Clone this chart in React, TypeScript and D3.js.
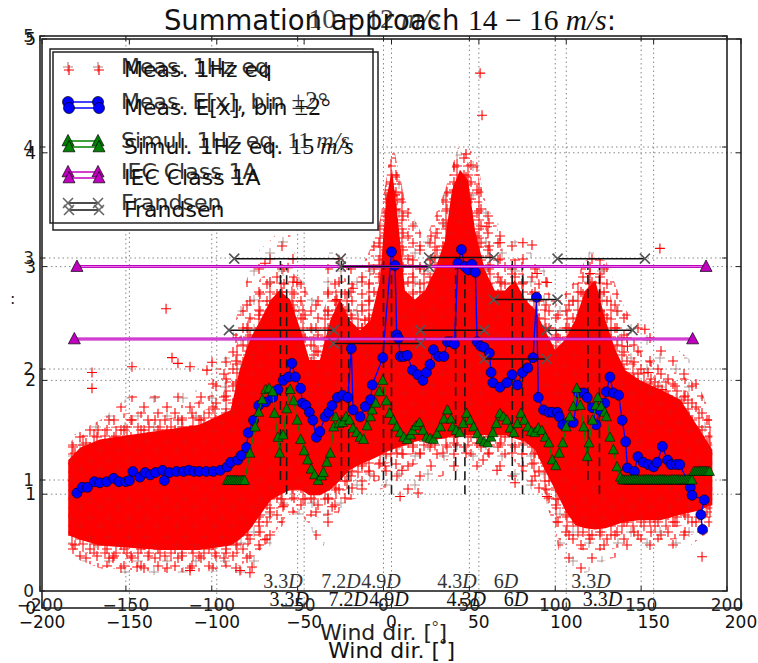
import React from "react";
import * as d3 from "d3";

// ---------------- data ----------------
const xTicks = [-200, -150, -100, -50, 0, 50, 100, 150, 200];
const yTicks = [0, 1, 2, 3, 4, 5];

const coreDirs = [-185, -178, -167, -150, -132, -110, -92, -87, -81, -75, -69, -64, -58, -52, -47, -41, -35, -29.5, -24, -18, -12, -6.6, -3.1, 0.3, 3.7, 7.7, 13.4, 19.2, 24.9, 30.6, 34.6, 39.2, 43.8, 47.8, 53.4, 59.1, 64.9, 70.6, 76.4, 82.1, 87.8, 93.6, 99.4, 105.1, 110.9, 116.6, 122.4, 128.1, 133.8, 142.4, 153.8, 165.3, 176.7, 183.6];
const coreHi = [1.3, 1.41, 1.48, 1.52, 1.56, 1.61, 1.74, 2.09, 2.36, 2.53, 2.71, 2.79, 2.71, 2.44, 2.18, 2.18, 2.53, 2.71, 2.53, 2.44, 2.53, 2.88, 3.59, 3.85, 3.41, 2.79, 2.71, 2.79, 2.97, 3.23, 3.67, 3.85, 3.76, 3.32, 2.97, 2.79, 2.79, 2.88, 2.71, 2.62, 2.44, 2.27, 2.36, 2.53, 2.79, 2.88, 2.53, 2.27, 2.09, 2.0, 1.92, 1.83, 1.56, 1.39];
const coreLo = [0.64, 0.6, 0.55, 0.53, 0.51, 0.51, 0.55, 0.6, 0.69, 0.82, 0.95, 0.99, 1.04, 1.04, 0.99, 0.99, 1.04, 1.12, 1.21, 1.26, 1.3, 1.34, 1.37, 1.39, 1.41, 1.43, 1.46, 1.48, 1.48, 1.49, 1.51, 1.52, 1.52, 1.52, 1.52, 1.52, 1.52, 1.49, 1.46, 1.39, 1.21, 1.04, 0.86, 0.73, 0.7, 0.69, 0.7, 0.73, 0.76, 0.77, 0.77, 0.82, 0.86, 0.91];
// sparse outer envelope of the cloud
const outerDirs = [-185.1, -178.3, -166.9, -149.6, -132.5, -109.6, -92.4, -86.7, -81, -75.3, -69.4, -63.8, -58.1, -52.4, -46.6, -40.9, -35.2, -29.5, -23.7, -18, -12.3, -6.6, 0.3, 7.7, 19.2, 30.6, 39.2, 47.8, 53.4, 64.9, 76.4, 87.8, 93.6, 96.4, 105.1, 113.7, 122.4, 133.8, 145.3, 156.7, 171, 183.6];
const outerHi = [1.48, 1.56, 1.65, 1.87, 1.87, 1.92, 2.27, 2.71, 2.97, 3.15, 3.23, 3.32, 3.28, 2.97, 2.71, 2.79, 3.15, 3.1, 3.01, 2.97, 3.15, 3.41, 4.11, 3.59, 3.23, 3.67, 4.11, 4.02, 3.59, 3.28, 3.19, 2.97, 2.71, 2.71, 2.88, 3.15, 3.06, 2.62, 2.44, 2.36, 2.18, 1.65];
const outerLo = [0.51, 0.42, 0.35, 0.29, 0.29, 0.32, 0.32, 0.29, 0.29, 0.42, 0.55, 0.69, 0.82, 0.82, 0.73, 0.47, 0.69, 0.86, 0.95, 0.97, 0.99, 1.04, 1.08, 0.95, 1.08, 1.17, 1.21, 1.21, 1.21, 1.17, 1.08, 0.95, 0.69, 0.42, 0.25, 0.33, 0.42, 0.47, 0.51, 0.51, 0.55, 0.69];

const outliers: [number, number][] = [
  [50.7, 4.7], [51.8, 4.33], [-129, 2.63], [-125.6, 2.2], [-122.2, 2.15], [-148.5, 2.12], [-171.4, 2.07],
  [-171.4, 1.93], [-115.3, 2.12], [-105.6, 2.09], [-102.7, 2.16], [-72.4, 3.03], [-59.2, 2.99], [-54.1, 2.86],
  [-22, 2.81], [-31.2, 2.71], [-15.2, 2.53], [0.3, 3.38], [2, 3.63], [2, 3.5], [54.6, 3.35], [62.1, 3.21],
  [75.2, 3.21], [80.4, 3.19], [113.6, 2.94], [89, 2.86], [83.3, 2.94], [153.6, 3.16], [146.8, 2.07],
  [154.8, 1.92], [166.2, 1.8], [177.7, 0.45], [-81, 0.31], [-72.4, 0.6], [-62.1, 0.89], [-34, 0.89],
  [6, 1.21], [4.9, 0.98], [15.2, 1.01], [52.4, 1.3], [60.4, 1.21], [70.7, 1.1], [89, 0.98], [-115.3, 0.33],
  [-86.7, 0.33], [-79.8, 0.36], [-145.6, 0.36], [-159.4, 0.44], [27.8, 2.53], [145, 2.45], [135, 2.3],
];

// Meas. E[x], bin ±2°
const bluePoints: [number, number][] = [
  [-180, 1.01], [-177, 1.06], [-174, 1.06], [-170, 1.11], [-167, 1.1], [-163, 1.11], [-159, 1.14], [-156, 1.11],
  [-152, 1.11], [-150, 1.12], [-148, 1.2], [-144, 1.15], [-141, 1.19], [-138, 1.17], [-135, 1.19], [-131, 1.21],
  [-130, 1.12], [-127, 1.19], [-123, 1.2], [-119, 1.2], [-116, 1.21], [-113, 1.2], [-110, 1.2], [-106, 1.2],
  [-102, 1.2], [-98, 1.21], [-94, 1.24], [-92, 1.28], [-88, 1.3], [-86, 1.34], [-83, 1.41], [-82, 1.54],
  [-79, 1.65], [-76, 1.78], [-72, 1.81], [-68, 1.85], [-65, 1.92], [-62, 2.0], [-59, 2.03], [-57, 2.15],
  [-55, 2.03], [-52, 1.93], [-51, 1.8], [-49, 1.78], [-47, 1.72], [-45, 1.65], [-43, 1.5], [-41, 1.55],
  [-38, 1.68], [-36, 1.72], [-34, 1.78], [-31, 1.85], [-28, 1.87], [-25, 1.85], [-23, 2.28], [-22, 1.74],
  [-18, 1.68], [-15, 1.77], [-12, 1.83], [-11, 1.96], [-5, 2.2], [0, 3.13], [2, 3.01], [3, 2.4], [4, 2.37],
  [5, 2.21], [7, 2.21], [9, 2.22], [12, 2.09], [15, 2.05], [18, 2.0], [20, 2.07], [22, 2.14], [24, 2.27],
  [27, 2.21], [30, 2.21], [32, 2.34], [34, 2.34], [36, 2.32], [38, 3.03], [40, 3.15], [42, 3.0], [44, 2.97],
  [46, 3.02], [48, 2.95], [49, 2.34], [51, 2.3], [53, 2.29], [56, 2.24], [57, 2.07], [58, 1.98], [62, 1.94],
  [66, 1.98], [69, 2.05], [72, 1.96], [75, 2.07], [78, 2.11], [81, 2.2], [83, 2.73], [84, 1.85], [87, 1.74],
  [90, 1.72], [92, 1.72], [95, 1.72], [96, 1.68], [98, 1.61], [101, 1.63], [104, 1.63], [107, 1.89],
  [110, 1.89], [112, 1.85], [115, 1.76], [117, 1.61], [119, 1.74], [122, 1.8], [123, 1.9], [125, 2.03],
  [127, 1.89], [130, 1.87], [132, 1.65], [134, 1.46], [135, 1.23], [139, 1.2], [141, 1.33], [144, 1.28],
  [147, 1.26], [150, 1.24], [152, 1.28], [155, 1.42], [158, 1.3], [160, 1.26], [163, 1.26], [165, 1.26],
  [171, 1.06], [172, 0.99], [179, 0.95], [177, 0.82], [178, 0.69],
];

// Simul. 1Hz eq.
const greenPoints: [number, number][] = [
  [-94, 1.12], [-93, 1.12], [-92, 1.12], [-91, 1.12], [-90, 1.12], [-89, 1.12], [-88, 1.12], [-87, 1.12],
  [-86, 1.12], [-85, 1.12], [-84, 1.12], [-81, 1.36], [-78, 1.59], [-76, 1.72], [-74, 1.83], [-72, 1.92],
  [-70, 1.93], [-68, 1.9], [-67, 1.71], [-65, 1.5], [-64, 1.36], [-62, 1.52], [-60, 1.75], [-58, 1.92],
  [-56, 1.82], [-54, 1.65], [-52, 1.48], [-50, 1.38], [-48, 1.3], [-46, 1.22], [-44, 1.17], [-42, 1.12],
  [-40, 1.16], [-39, 1.19], [-37, 1.28], [-35, 1.36], [-33, 1.59], [-32, 1.68], [-30, 1.62], [-28, 1.63],
  [-26, 1.68], [-24, 1.65], [-22, 1.58], [-20, 1.54], [-18, 1.5], [-16, 1.48], [-14, 1.6], [-12, 1.68],
  [-11, 1.74], [-9, 1.8], [-7, 1.9], [-5, 2.0], [-3, 1.82], [-1, 1.71], [1, 1.65], [3, 1.59], [5, 1.54],
  [7, 1.5], [9, 1.48], [11, 1.52], [12, 1.56], [14, 1.6], [16, 1.63], [18, 1.56], [20, 1.5], [22, 1.49],
  [24, 1.48], [26, 1.53], [28, 1.59], [30, 1.66], [32, 1.74], [34, 1.66], [35, 1.59], [37, 1.56], [39, 1.54],
  [41, 1.62], [43, 1.71], [45, 1.65], [47, 1.59], [49, 1.53], [51, 1.48], [53, 1.46], [55, 1.45], [57, 1.5],
  [58, 1.54], [60, 1.62], [62, 1.71], [64, 1.68], [66, 1.65], [68, 1.58], [70, 1.54], [72, 1.62], [74, 1.71],
  [76, 1.65], [78, 1.59], [80, 1.55], [82, 1.54], [84, 1.58], [86, 1.56], [88, 1.5], [90, 1.45], [92, 1.3],
  [94, 1.25], [96, 1.36], [98, 1.45], [100, 1.59], [102, 1.68], [104, 1.77], [106, 1.93], [108, 1.78],
  [110, 1.59], [112, 1.33], [113, 1.45], [115, 1.65], [117, 1.78], [118, 1.85], [120, 1.77], [122, 1.72],
  [123, 1.68], [125, 1.5], [127, 1.39], [129, 1.24], [131, 1.15], [132, 1.125], [133, 1.125], [134, 1.125],
  [135, 1.125], [136, 1.125], [137, 1.125], [138, 1.125], [139, 1.125], [140, 1.125], [141, 1.125], [142, 1.125],
  [143, 1.125], [144, 1.125], [145, 1.125], [146, 1.125], [147, 1.125], [148, 1.125], [149, 1.125], [150, 1.125],
  [151, 1.125], [152, 1.125], [153, 1.125], [154, 1.125], [155, 1.125], [156, 1.125], [157, 1.125], [158, 1.125],
  [159, 1.125], [160, 1.125], [161, 1.125], [162, 1.125], [163, 1.125], [164, 1.125], [165, 1.125], [166, 1.125],
  [167, 1.125], [168, 1.125], [169, 1.125], [170, 1.125], [171, 1.125], [172, 1.125], [173, 1.2], [174, 1.2],
  [175, 1.2], [176, 1.2], [177, 1.2], [178, 1.2], [179, 1.2], [180, 1.2], [181, 1.2], [182, 1.2],
];

// IEC Class 1A level (two overlaid figures: A = 10–12 m/s, B = 14–16 m/s)
const iecDirs = [-180, 180];
const iecLevelA = 2.27;
const iecLevelB = 3.0;

// Frandsen sectors and levels
const frandsenSectors: [number, number][] = [[-90, -29], [-29, 21.5], [21.5, 58.5], [58.5, 95], [95, 145]];
const frandsenLevelsA = [2.35, 2.23, 2.35, 2.09, 2.35];
const frandsenLevelsB = [3.07, 3.0, 3.08, 2.71, 3.07];

// wake directions of neighbouring turbines
const wakeDirs = [-60, -24.5, 0, 42, 75, 119];
const wakeRange = [1, 3];
const wakeLabelDirs = [-58.5, -24.7, -1.5, 42.8, 71.3, 120.8];
const wakeLabels = ["3.3", "7.2", "4.9", "4.3", "6", "3.3"];

const legendTexts = ["Meas. 1Hz eq", "Meas. E[x], bin ", "Simul. 1Hz eq. ", "IEC Class 1A", "Frandsen"];
const legendMathA = ["", "±2°", "11", "", ""];
const legendMathB = ["", "±2°", "15", "", ""];

// ---------------- layout ----------------
const FA = { l: 40, r: 727, t: 36, b: 591 };
const FB = { l: 42, r: 741, t: 39, b: 608 };
const xA = d3.scaleLinear().domain([-200, 200]).range([FA.l, FA.r]);
const yA = d3.scaleLinear().domain([0, 5]).range([FA.b, FA.t]);
const xB = d3.scaleLinear().domain([-200, 200]).range([FB.l, FB.r]);
const yB = d3.scaleLinear().domain([0, 5]).range([FB.b, FB.t]);

const SANS = "DejaVu Sans";
const SERIF = "Liberation Serif";

const crossPath = (x: number, y: number, s: number) => `M${x - s},${y}H${x + s}M${x},${y - s}V${y + s}`;
const xPath = (x: number, y: number, s: number) => `M${x - s},${y - s}L${x + s},${y + s}M${x - s},${y + s}L${x + s},${y - s}`;
const triPath = (x: number, y: number, s: number) => `M${x},${y - s * 1.1}L${x + s},${y + s * 0.8}L${x - s},${y + s * 0.8}Z`;
const fmt = (v: number) => (v < 0 ? "\u2212" + Math.abs(v) : String(v));

type Sc = d3.ScaleLinear<number, number>;

function Grid({ F, x, y }: { F: any; x: Sc; y: Sc }) {
  return (
    <g stroke="#7a7a7a" strokeWidth={0.9} strokeDasharray="1.5,3">
      {xTicks.slice(1, -1).map((t) => (
        <line key={"gx" + t} x1={x(t)} x2={x(t)} y1={F.t} y2={F.b} />
      ))}
      {yTicks.slice(1, -1).map((t) => (
        <line key={"gy" + t} x1={F.l} x2={F.r} y1={y(t)} y2={y(t)} />
      ))}
    </g>
  );
}

function Frame({ F, x, y, color }: { F: any; x: Sc; y: Sc; color: string }) {
  return (
    <g>
      <rect x={F.l} y={F.t} width={F.r - F.l} height={F.b - F.t} fill="none" stroke="#222" strokeWidth={1.6} />
      <g stroke="#222" strokeWidth={1}>
        {xTicks.map((t) => (
          <g key={"tx" + t}>
            <line x1={x(t)} x2={x(t)} y1={F.b} y2={F.b - 5} />
            <line x1={x(t)} x2={x(t)} y1={F.t} y2={F.t + 5} />
          </g>
        ))}
        {yTicks.map((t) => (
          <g key={"ty" + t}>
            <line x1={F.l} x2={F.l + 5} y1={y(t)} y2={y(t)} />
            <line x1={F.r} x2={F.r - 5} y1={y(t)} y2={y(t)} />
          </g>
        ))}
      </g>
      <g fontFamily={SANS} fontSize={17} fill={color}>
        {xTicks.map((t) => (
          <text key={"lx" + t} x={x(t)} y={F.b + 20} textAnchor="middle">
            {fmt(t)}
          </text>
        ))}
        {yTicks.map((t) => (
          <text key={"ly" + t} x={F.l - 6} y={y(t) + 6} textAnchor="end">
            {fmt(t)}
          </text>
        ))}
      </g>
    </g>
  );
}

function Wakes({ x, y, labelY, color }: { x: Sc; y: Sc; labelY: number; color: string }) {
  return (
    <g>
      {wakeDirs.map((d, i) => (
        <line key={"w" + i} x1={x(d)} x2={x(d)} y1={y(wakeRange[0])} y2={y(wakeRange[1])} stroke="#1a1a1a" strokeWidth={1.6} strokeDasharray="9,5" />
      ))}
      {wakeLabelDirs.map((d, i) => (
        <text key={"wl" + i} x={x(d)} y={labelY} textAnchor="middle" fontFamily={SERIF} fontSize={20} fill={color}>
          {wakeLabels[i]}
          <tspan fontStyle="italic">D</tspan>
        </text>
      ))}
    </g>
  );
}

function Frandsen({ x, y, levels }: { x: Sc; y: Sc; levels: number[] }) {
  return (
    <g>
      {frandsenSectors.map((s, i) => (
        <g key={"f" + i}>
          <line x1={x(s[0])} x2={x(s[1])} y1={y(levels[i])} y2={y(levels[i])} stroke="#111" strokeWidth={1.5} />
          <path d={xPath(x(s[0]), y(levels[i]), 5) + xPath(x(s[1]), y(levels[i]), 5)} stroke="#555" strokeWidth={1.6} fill="none" />
        </g>
      ))}
    </g>
  );
}

function Iec({ x, y, level }: { x: Sc; y: Sc; level: number }) {
  const line = d3.line<number>().x((d) => x(d)).y(() => y(level));
  return (
    <g>
      <path d={line(iecDirs) || ""} stroke="#bf00bf" strokeWidth={3} fill="none" />
      <path d={line(iecDirs) || ""} stroke="#f0a0f0" strokeWidth={0.8} fill="none" />
      {iecDirs.map((d, i) => (
        <path key={"iec" + i} d={triPath(x(d), y(level), 6)} fill="#bf00bf" stroke="#000" strokeWidth={0.7} />
      ))}
    </g>
  );
}

function Legend({ rows, mx, tx, maths, color, plusColor }: any) {
  return (
    <g>
      {rows.map((ry: number, i: number) => {
        let marker: React.ReactNode = null;
        if (i === 0) {
          marker = <path d={crossPath(mx[0], ry, 5) + crossPath(mx[1], ry, 5)} stroke={plusColor} strokeWidth={1.2} fill="none" />;
        } else if (i === 1) {
          marker = (
            <g>
              <line x1={mx[0]} x2={mx[1]} y1={ry} y2={ry} stroke="#0000ff" strokeWidth={1.5} />
              <circle cx={mx[0]} cy={ry} r={5.5} fill="#0000ff" stroke="#000" strokeWidth={0.7} />
              <circle cx={mx[1]} cy={ry} r={5.5} fill="#0000ff" stroke="#000" strokeWidth={0.7} />
            </g>
          );
        } else if (i === 2 || i === 3) {
          const c = i === 2 ? "#008000" : "#bf00bf";
          marker = (
            <g>
              <line x1={mx[0]} x2={mx[1]} y1={ry} y2={ry} stroke={c} strokeWidth={1.5} />
              <path d={triPath(mx[0], ry, 6) + triPath(mx[1], ry, 6)} fill={c} stroke="#000" strokeWidth={0.7} />
            </g>
          );
        } else {
          marker = (
            <g>
              <line x1={mx[0]} x2={mx[1]} y1={ry} y2={ry} stroke="#111" strokeWidth={1.5} />
              <path d={xPath(mx[0], ry, 5) + xPath(mx[1], ry, 5)} stroke="#666" strokeWidth={1.6} fill="none" />
            </g>
          );
        }
        return (
          <g key={"lg" + i}>
            {marker}
            <text x={tx} y={ry + 7} fontFamily={SANS} fontSize={22} fill={color}>
              {legendTexts[i]}
              {i === 1 && <tspan fontFamily={SERIF} fontSize={25}>{maths[i]}</tspan>}
              {i === 2 && (
                <tspan fontFamily={SERIF} fontSize={24}>
                  {maths[i] + " "}
                  <tspan fontStyle="italic">m/s</tspan>
                </tspan>
              )}
            </text>
          </g>
        );
      })}
    </g>
  );
}

export default function App() {
  const core = coreDirs.map((d, i) => ({ d, hi: coreHi[i], lo: coreLo[i] }));
  const outer = outerDirs.map((d, i) => ({ d, hi: outerHi[i], lo: outerLo[i] }));
  const area = d3.area<any>().x((r) => xB(r.d)).y0((r) => yB(r.lo)).y1((r) => yB(r.hi)).curve(d3.curveLinear);
  const blueLine = d3.line<[number, number]>().x((p) => xB(p[0])).y((p) => yB(p[1]));
  const greenLine = d3.line<[number, number]>().x((p) => xB(p[0])).y((p) => yB(p[1]));
  const coreD = area(core) || "";
  const outerD = area(outer) || "";

  const boxA = { x: 50, y: 49, w: 323, h: 174 };
  const boxB = { x: 53, y: 52, w: 325, h: 178 };

  return (
    <svg width={758} height={663} style={{ position: "absolute", left: 0, top: 0, background: "#fff" }}>
      <defs>
        <clipPath id="clipB">
          <rect x={FB.l} y={FB.t} width={FB.r - FB.l} height={FB.b - FB.t} />
        </clipPath>
        <clipPath id="clipOuter">
          <path d={outerD} />
        </clipPath>
        <pattern id="pc1" width={17} height={17} patternUnits="userSpaceOnUse">
          <path d={crossPath(5, 5, 5) + crossPath(12, 12, 5)} stroke="#ff0000" strokeWidth={1.1} fill="none" />
        </pattern>
        <pattern id="pc2" width={23} height={23} patternUnits="userSpaceOnUse">
          <path d={crossPath(6, 16, 5) + crossPath(17, 6, 5)} stroke="#ff0000" strokeWidth={1.1} fill="none" />
        </pattern>
        <pattern id="pc4" width={11} height={9} patternUnits="userSpaceOnUse">
          <path d={crossPath(6, 4, 5)} stroke="#ff1010" strokeWidth={1.1} fill="none" />
        </pattern>
        <pattern id="pc3" width={29} height={29} patternUnits="userSpaceOnUse">
          <path d={crossPath(9, 21, 5) + crossPath(22, 10, 5)} stroke="#9a7070" strokeWidth={1} fill="none" opacity={0.7} />
        </pattern>
        <pattern id="pcore" width={19} height={19} patternUnits="userSpaceOnUse">
          <path d={crossPath(5, 13, 5) + crossPath(14, 5, 5)} stroke="#a03030" strokeWidth={0.8} fill="none" opacity={0.35} />
        </pattern>
      </defs>

      <Grid F={FA} x={xA} y={yA} />
      <Grid F={FB} x={xB} y={yB} />

      <g clipPath="url(#clipB)">
        {/* measured cloud: sparse fringe, dense band around core, solid core */}
        <path d={outerD} fill="url(#pc2)" />
        <path d={outerD} fill="url(#pc3)" />
        <g clipPath="url(#clipOuter)">
          <path d={coreD} fill="none" stroke="url(#pc1)" strokeWidth={44} strokeLinejoin="round" />
          <path d={coreD} fill="none" stroke="url(#pc4)" strokeWidth={22} strokeLinejoin="round" />
        </g>
        <path d={coreD} fill="#ff0000" />
        <path d={coreD} fill="url(#pcore)" />
        <path
          d={outliers.map((p) => crossPath(xB(p[0]), yB(p[1]), 5)).join("")}
          stroke="#ff0000"
          strokeWidth={1.1}
          fill="none"
        />

        <Wakes x={xA} y={yA} labelY={yA(0) - 3} color="#333" />
        <Wakes x={xB} y={yB} labelY={yB(0) - 2} color="#111" />

        {/* Meas. E[x] */}
        <path d={blueLine(bluePoints) || ""} stroke="#0000ff" strokeWidth={1.4} fill="none" />
        {bluePoints.map((p, i) => (
          <circle key={"b" + i} cx={xB(p[0])} cy={yB(p[1])} r={5} fill="#0000ff" stroke="#000" strokeWidth={0.6} />
        ))}

        {/* Simul. */}
        <path d={greenLine(greenPoints) || ""} stroke="#008000" strokeWidth={1.2} fill="none" />
        {greenPoints.map((p, i) => (
          <path key={"g" + i} d={triPath(xB(p[0]), yB(p[1]), 5)} fill="#008000" stroke="#000" strokeWidth={0.5} />
        ))}

        <Iec x={xA} y={yA} level={iecLevelA} />
        <Iec x={xB} y={yB} level={iecLevelB} />

        <Frandsen x={xA} y={yA} levels={frandsenLevelsA} />
        <Frandsen x={xB} y={yB} levels={frandsenLevelsB} />
      </g>

      <Frame F={FA} x={xA} y={yA} color="#222" />
      <Frame F={FB} x={xB} y={yB} color="#111" />

      {/* titles */}
      <text x={374} y={28} textAnchor="middle" fontFamily={SERIF} fontSize={28} fill="#444">
        {"10 \u2212 12 "}
        <tspan fontStyle="italic">m/s</tspan>
      </text>
      <text x={390} y={30} textAnchor="middle" fontFamily={SANS} fontSize={27.5} fill="#111">
        {"Summation approach "}
        <tspan fontFamily={SERIF} fontSize={29.5}>
          {"14 \u2212 16 "}
          <tspan fontStyle="italic">m/s</tspan>
        </tspan>
        :
      </text>

      {/* x labels */}
      <text x={383.5} y={640} textAnchor="middle" fontFamily={SANS} fontSize={22} fill="#222">
        {"Wind dir. ["}
        <tspan fontFamily={SERIF} fontSize={16} dy={-8}>
          °
        </tspan>
        <tspan dy={8}>]</tspan>
      </text>
      <text x={391.5} y={658} textAnchor="middle" fontFamily={SANS} fontSize={22} fill="#111">
        {"Wind dir. ["}
        <tspan fontFamily={SERIF} fontSize={16} dy={-8}>
          °
        </tspan>
        <tspan dy={8}>]</tspan>
      </text>
      <text x={10} y={304} fontFamily={SANS} fontSize={16} fill="#222">
        :
      </text>

      {/* legends */}
      <rect x={boxA.x} y={boxA.y} width={boxA.w} height={boxA.h} fill="#fff" />
      <rect x={boxB.x} y={boxB.y} width={boxB.w} height={boxB.h} fill="#fff" />
      <rect x={boxA.x} y={boxA.y} width={boxA.w} height={boxA.h} fill="none" stroke="#222" strokeWidth={1.5} />
      <rect x={boxB.x} y={boxB.y} width={boxB.w} height={boxB.h} fill="none" stroke="#222" strokeWidth={1.5} />
      <Legend rows={[67, 102, 141, 172, 203]} mx={[68, 98]} tx={121} maths={legendMathA} color="#333" plusColor="#b08080" />
      <Legend rows={[70, 108, 147, 178, 210]} mx={[69, 99]} tx={124} maths={legendMathB} color="#111" plusColor="#ff0000" />
    </svg>
  );
}
